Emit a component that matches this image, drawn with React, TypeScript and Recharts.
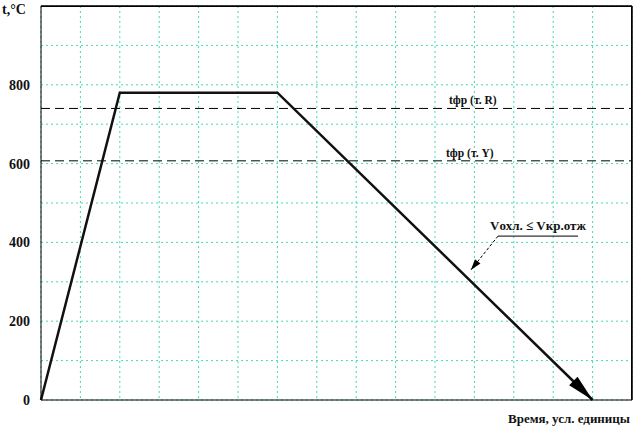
import React from "react";
import {
  LineChart,
  Line,
  XAxis,
  YAxis,
  CartesianGrid,
  ReferenceLine,
  ReferenceDot,
} from "recharts";

// heating / holding / cooling profile
const times = [0, 2, 6, 14];
const temps = [0, 780, 780, 0];

const xTicks = [0, 1, 2, 3, 4, 5, 6, 7, 8, 9, 10, 11, 12, 13, 14, 15];
const yTicks = [0, 100, 200, 300, 400, 500, 600, 700, 800, 900, 1000];
const yLabels = [0, 200, 400, 600, 800];

const levelR = 740;
const levelY = 607;

// annotation: underline ends and leader tip
const noteLineX = [11.6, 13.63];
const noteLineY = 416;
const noteTip = { x: 10.91, y: 330 };

const data = times.map((t, i) => ({ time: t, temp: temps[i] }));

const FONT = "'Liberation Serif', 'Times New Roman', serif";
const GRID = "#40dbb7";

const ArrowHead = ({ cx, cy, angle, len, half }: any) => {
  if (cx == null || cy == null) return <g />;
  return (
    <polygon
      points={`0,0 ${-len},${-half} ${-len},${half}`}
      transform={`translate(${cx},${cy}) rotate(${angle})`}
      fill="#000"
    />
  );
};

const renderDot = (props: any) => {
  const { cx, cy, index } = props;
  if (index !== data.length - 1) return <g key={`d-${index}`} />;
  return (
    <g key={`d-${index}`}>
      <ArrowHead cx={cx} cy={cy} angle={44.5} len={27} half={6} />
    </g>
  );
};

const levelLabel = (text: string, dx: number) => (props: any) => {
  const { viewBox } = props;
  return (
    <text
      x={viewBox.x + dx}
      y={viewBox.y - 4}
      fontFamily={FONT}
      fontWeight="bold"
      fontSize={11.5}
      fill="#111"
    >
      {text}
    </text>
  );
};

const App: React.FC = () => {
  const xMax = xTicks[xTicks.length - 1];
  const yMax = yTicks[yTicks.length - 1];
  return (
    <div style={{ position: "fixed", left: 0, top: 0, background: "#fff" }}>
      <LineChart
        width={633}
        height={427}
        data={data}
        margin={{ top: 6, right: 1, left: 0, bottom: 0 }}
      >
        <CartesianGrid stroke={GRID} strokeDasharray="2 3" />
        <XAxis
          dataKey="time"
          type="number"
          domain={[0, 15]}
          ticks={xTicks}
          interval={0}
          tickFormatter={() => ""}
          tickLine={false}
          axisLine={{ stroke: "#000" }}
          height={27}
          label={(props: any) => {
            const { viewBox } = props;
            return (
              <text
                x={viewBox.x + viewBox.width - 2}
                y={viewBox.y + 23}
                textAnchor="end"
                fontFamily={FONT}
                fontWeight="bold"
                fontSize={13}
                fill="#111"
              >
                Время, усл. единицы
              </text>
            );
          }}
        />
        <YAxis
          type="number"
          domain={[0, 1000]}
          ticks={yTicks}
          interval={0}
          width={41}
          tickLine={false}
          tickSize={6}
          tickMargin={5}
          axisLine={{ stroke: "#000" }}
          tick={{ fontFamily: FONT, fontWeight: "bold", fontSize: 14, fill: "#111" }}
          tickFormatter={(v: number) => (yLabels.includes(v) ? String(v) : "")}
          label={() => (
            <text
              x={2}
              y={14}
              fontFamily={FONT}
              fontWeight="bold"
              fontSize={14}
              fill="#111"
            >
              t,°C
            </text>
          )}
        />
        {/* top and right edges of the plot frame */}
        <ReferenceLine y={yMax} stroke="#000" strokeWidth={1.5} ifOverflow="visible" />
        <ReferenceLine x={xMax} stroke="#000" strokeWidth={1.5} ifOverflow="visible" />
        <ReferenceLine
          y={levelR}
          stroke="#000"
          strokeDasharray="9 5"
          label={levelLabel("tфр (т. R)", 408)}
        />
        <ReferenceLine
          y={levelY}
          stroke="#000"
          strokeDasharray="9 5"
          label={levelLabel("tфр (т. Y)", 405)}
        />
        <ReferenceLine
          segment={[
            { x: noteLineX[0], y: noteLineY },
            { x: noteLineX[1], y: noteLineY },
          ]}
          stroke="#000"
          strokeWidth={1}
          label={(props: any) => {
            const { viewBox } = props;
            return (
              <text
                x={viewBox.x + viewBox.width / 2}
                y={viewBox.y - 6}
                textAnchor="middle"
                fontFamily={FONT}
                fontWeight="bold"
                fontSize={13}
                fill="#111"
              >
                Vохл. ≤ Vкр.отж
              </text>
            );
          }}
        />
        <ReferenceLine
          segment={[
            { x: noteLineX[0], y: noteLineY },
            { x: noteTip.x, y: noteTip.y },
          ]}
          stroke="#000"
          strokeWidth={1}
          strokeDasharray="3 2"
        />
        <ReferenceDot
          x={noteTip.x}
          y={noteTip.y}
          r={0}
          shape={(p: any) => <ArrowHead cx={p.cx} cy={p.cy} angle={128.5} len={11} half={3.5} />}
        />
        <Line
          type="linear"
          dataKey="temp"
          stroke="#111"
          strokeWidth={2.5}
          dot={renderDot}
          activeDot={false}
          isAnimationActive={false}
        />
      </LineChart>
      <div
        style={{
          position: "absolute",
          left: 41,
          top: 6,
          width: 591,
          height: 394,
          boxSizing: "border-box",
          borderTop: "1px solid #000",
          borderRight: "1px solid #000",
          pointerEvents: "none",
        }}
      />
    </div>
  );
};

export default App;
